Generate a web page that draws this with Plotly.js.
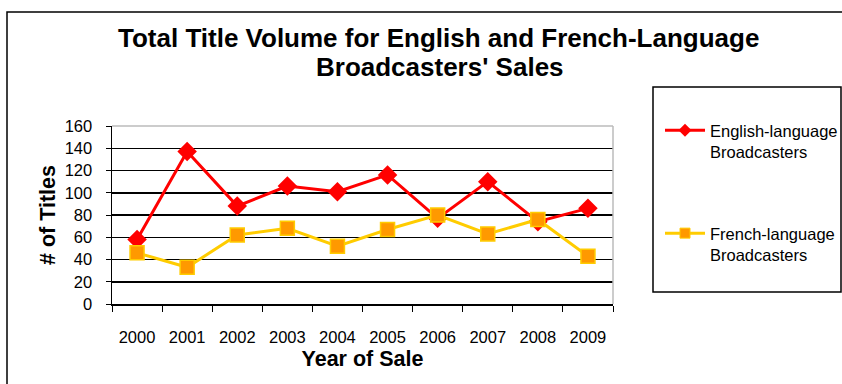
<!DOCTYPE html>
<html>
<head>
<meta charset="utf-8">
<script src="https://cdn.plot.ly/plotly-3.0.1.min.js"></script>
<style>html,body{margin:0;padding:0;background:#fff;}#chart{width:842px;height:384px;}</style>
</head>
<body>
<div id="chart"></div>
<script>
const years = ['2000','2001','2002','2003','2004','2005','2006','2007','2008','2009'];
const englishValues = [58, 137, 88, 106, 101, 116, 77, 110, 74, 86];
const frenchValues = [46, 33, 62, 68, 52, 67, 80, 63, 76, 43];
const yTicks = [0, 20, 40, 60, 80, 100, 120, 140, 160];
const titleLines = ['Total Title Volume for English and French-Language', "Broadcasters' Sales"];
const seriesNames = ['English-language<br>Broadcasters', 'French-language<br>Broadcasters'];

const F = 'Liberation Sans, Arial, sans-serif';
const px = v => (v - 112) / 501;
const py = v => (304 - v) / 178;

const engLine = {color: '#FF0000', width: 3};
const freLine = {color: '#FFCC00', width: 3};

const traces = [
  {
    x: years, y: englishValues, type: 'scatter', mode: 'lines+markers',
    name: seriesNames[0], showlegend: false,
    line: engLine,
    marker: {symbol: 'diamond', size: 15, color: '#FF0000'}
  },
  {
    x: years, y: frenchValues, type: 'scatter', mode: 'lines+markers',
    name: seriesNames[1], showlegend: false,
    line: freLine,
    marker: {symbol: 'square', size: 14, color: '#FF9900', line: {color: '#FFCC00', width: 1.5}}
  },
  // legend entries (smaller symbols as in the reference legend)
  {
    x: [null], y: [null], type: 'scatter', mode: 'lines+markers',
    name: seriesNames[0], legendgroup: 'a',
    line: engLine, marker: {symbol: 'diamond', size: 10, color: '#FF0000'}
  },
  {
    x: [null], y: [null], type: 'scatter', mode: 'lines+markers',
    name: seriesNames[1], legendgroup: 'b',
    line: freLine, marker: {symbol: 'square', size: 10, color: '#FF9900', line: {color: '#FFCC00', width: 1}}
  }
];

const layout = {
  width: 842, height: 384,
  margin: {l: 112, r: 229, t: 126, b: 80, autoexpand: false},
  paper_bgcolor: '#fff', plot_bgcolor: '#fff',
  font: {family: F, color: '#000', size: 16.5},
  xaxis: {
    type: 'category', range: [-0.5, 9.5], automargin: false,
    showgrid: false, zeroline: false,
    showline: true, linecolor: '#000', linewidth: 1.5, mirror: false,
    ticks: 'outside', ticklen: 6, tickcolor: '#000', tickson: 'boundaries',
    tickfont: {family: F, size: 16.5, color: '#000'},
    ticklabelstandoff: 18,
    title: {text: '<b>Year of Sale</b>', font: {family: F, size: 21.5, color: '#000'}, standoff: 5}
  },
  yaxis: {
    range: [0, 160], tickvals: yTicks, ticktext: yTicks.map(String), automargin: false,
    showgrid: true, gridcolor: '#000', gridwidth: 1.5,
    zeroline: false, showline: true, linecolor: '#000', linewidth: 1.5,
    ticks: 'outside', ticklen: 5, tickcolor: '#000',
    tickfont: {family: F, size: 16.5, color: '#000'},
    ticklabelstandoff: 10,
    title: {text: '<b># of Titles</b>', font: {family: F, size: 21.5, color: '#000'}, standoff: 3}
  },
  showlegend: true,
  legend: {
    x: px(660), xanchor: 'left',
    y: py(113), yanchor: 'top',
    bgcolor: 'rgba(0,0,0,0)', borderwidth: 0,
    font: {family: F, size: 16.5, color: '#000'},
    traceorder: 'grouped', tracegroupgap: 57, valign: 'top',
    itemwidth: 40
  },
  annotations: [
    {text: '<b>' + titleLines[0] + '</b>', xref: 'paper', yref: 'paper', x: px(438), y: py(38),
     xanchor: 'center', yanchor: 'middle', showarrow: false, font: {family: F, size: 26, color: '#000'}},
    {text: '<b>' + titleLines[1] + '</b>', xref: 'paper', yref: 'paper', x: px(440), y: py(67),
     xanchor: 'center', yanchor: 'middle', showarrow: false, font: {family: F, size: 26, color: '#000'}}
  ],
  shapes: [
    {type: 'rect', xref: 'paper', yref: 'paper', x0: px(7), x1: px(848),
     y0: py(392), y1: py(12), line: {color: '#000', width: 1.5}, fillcolor: 'rgba(0,0,0,0)'},
    {type: 'rect', xref: 'paper', yref: 'paper', x0: px(653), x1: px(841),
     y0: py(292), y1: py(87), line: {color: '#000', width: 1.5}, fillcolor: 'rgba(0,0,0,0)'},
    {type: 'line', xref: 'paper', yref: 'paper', x0: 0, x1: 1, y0: 1, y1: 1, line: {color: '#BBBBBB', width: 1.5}},
    {type: 'line', xref: 'paper', yref: 'paper', x0: 1, x1: 1, y0: 0, y1: 1, line: {color: '#BBBBBB', width: 1.5}}
  ]
};

Plotly.newPlot('chart', traces, layout, {displayModeBar: false, staticPlot: true});
</script>
</body>
</html>
